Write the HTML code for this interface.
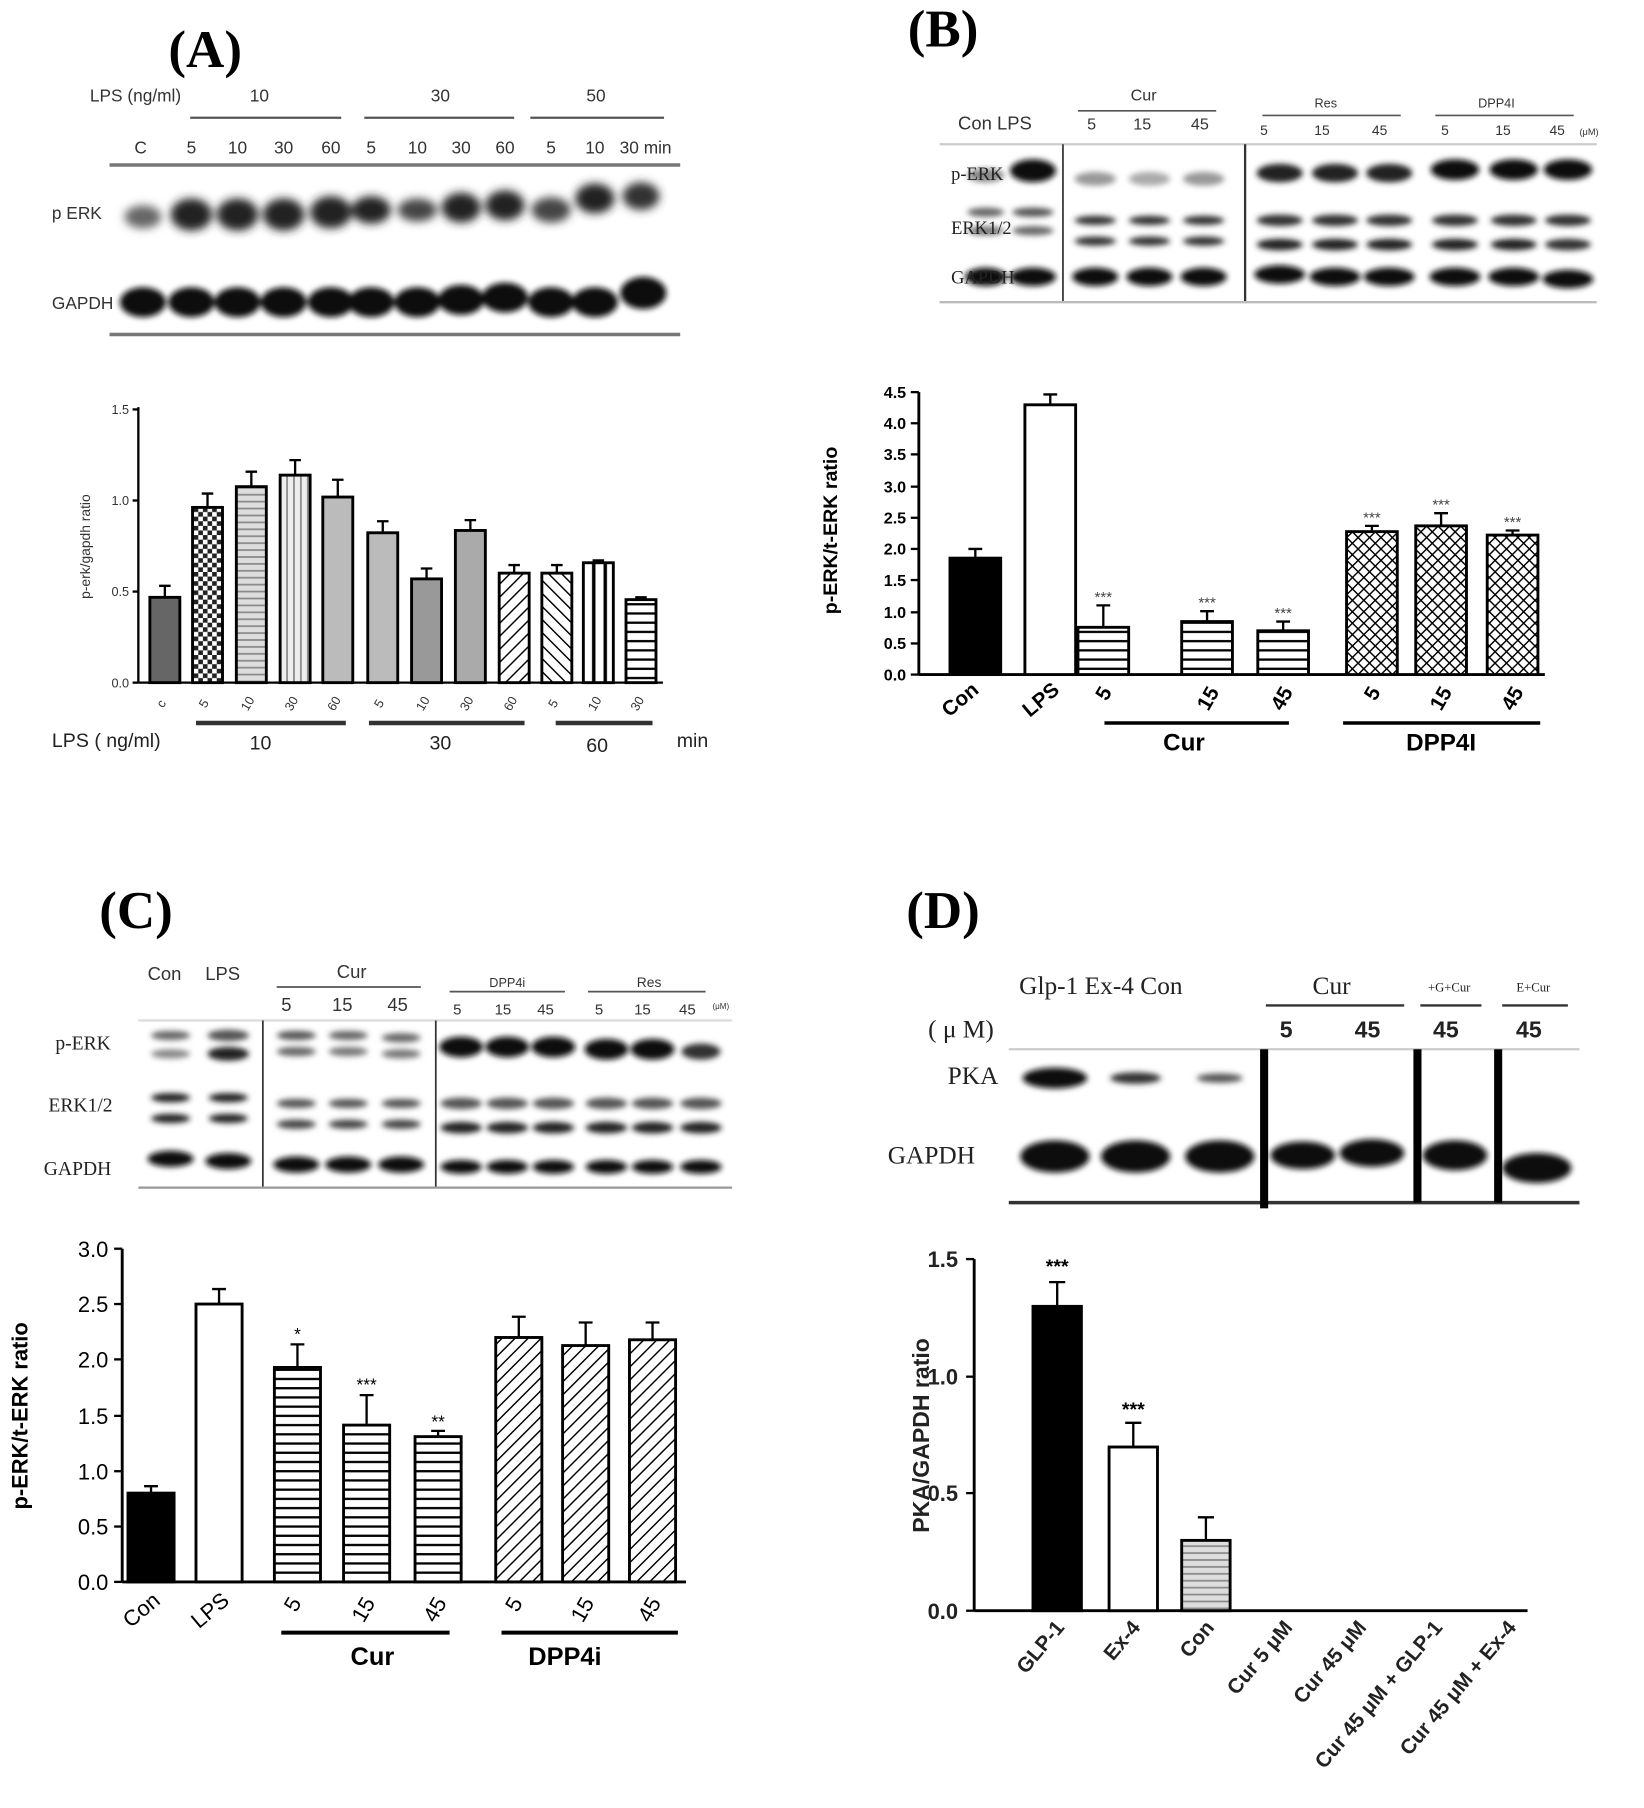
<!DOCTYPE html>
<html><head><meta charset="utf-8"><style>
html,body{margin:0;padding:0;background:#fff}
svg{display:block}
text{font-family:"Liberation Sans",sans-serif}
.serif{font-family:"Liberation Serif",serif}
</style></head><body>
<svg width="1644" height="1808" viewBox="0 0 1426 1568" xmlns="http://www.w3.org/2000/svg">
<defs>
<filter id="bl" x="-30%" y="-80%" width="160%" height="260%"><feGaussianBlur stdDeviation="4"/></filter>
<filter id="bl2" x="-30%" y="-80%" width="160%" height="260%"><feGaussianBlur stdDeviation="2.5"/></filter>
<pattern id="hz" width="8" height="8" patternUnits="userSpaceOnUse"><rect width="8" height="8" fill="#fff"/><line x1="0" y1="4" x2="8" y2="4" stroke="#000" stroke-width="2"/></pattern>
<pattern id="hz2" width="6" height="6" patternUnits="userSpaceOnUse"><rect width="6" height="6" fill="#ddd"/><line x1="0" y1="3" x2="6" y2="3" stroke="#888" stroke-width="1.5"/></pattern>
<pattern id="vt" width="6" height="6" patternUnits="userSpaceOnUse"><rect width="6" height="6" fill="#eee"/><line x1="3" y1="0" x2="3" y2="6" stroke="#888" stroke-width="1.5"/></pattern>
<pattern id="ck" width="8" height="8" patternUnits="userSpaceOnUse"><rect width="8" height="8" fill="#fff"/><rect width="4" height="4" fill="#222"/><rect x="4" y="4" width="4" height="4" fill="#222"/></pattern>
<pattern id="d1" width="8" height="8" patternUnits="userSpaceOnUse" patternTransform="rotate(45)"><rect width="8" height="8" fill="#fff"/><line x1="0" y1="0" x2="0" y2="8" stroke="#000" stroke-width="2.5"/></pattern>
<pattern id="d2" width="8" height="8" patternUnits="userSpaceOnUse" patternTransform="rotate(-45)"><rect width="8" height="8" fill="#fff"/><line x1="0" y1="0" x2="0" y2="8" stroke="#000" stroke-width="2.5"/></pattern>
<pattern id="xh" width="7" height="7" patternUnits="userSpaceOnUse" patternTransform="rotate(45)"><rect width="7" height="7" fill="#fff"/><line x1="0" y1="0" x2="0" y2="7" stroke="#000" stroke-width="2.5"/><line x1="0" y1="0" x2="7" y2="0" stroke="#000" stroke-width="2.5"/></pattern>
<pattern id="vl" width="10" height="10" patternUnits="userSpaceOnUse"><rect width="10" height="10" fill="#fff"/><line x1="5" y1="0" x2="5" y2="10" stroke="#000" stroke-width="3"/></pattern>
</defs>

<!-- Panel A -->
<text x="178" y="58" class="serif" font-size="46" font-weight="bold" text-anchor="middle">(A)</text>
<g font-size="15" fill="#333">
<text x="78" y="88">LPS (ng/ml)</text>
<text x="225" y="88" text-anchor="middle">10</text><text x="382" y="88" text-anchor="middle">30</text><text x="517" y="88" text-anchor="middle">50</text>
<line x1="165" y1="102" x2="296" y2="102" stroke="#555" stroke-width="2"/>
<line x1="316" y1="102" x2="446" y2="102" stroke="#555" stroke-width="2"/>
<line x1="460" y1="102" x2="576" y2="102" stroke="#555" stroke-width="2"/>
<text x="122" y="133" text-anchor="middle">C</text>
<text x="166" y="133" text-anchor="middle">5</text><text x="206" y="133" text-anchor="middle">10</text><text x="246" y="133" text-anchor="middle">30</text><text x="287" y="133" text-anchor="middle">60</text>
<text x="322" y="133" text-anchor="middle">5</text><text x="362" y="133" text-anchor="middle">10</text><text x="400" y="133" text-anchor="middle">30</text><text x="438" y="133" text-anchor="middle">60</text>
<text x="478" y="133" text-anchor="middle">5</text><text x="516" y="133" text-anchor="middle">10</text><text x="560" y="133" text-anchor="middle">30 min</text>
<text x="45" y="190">p ERK</text><text x="45" y="268">GAPDH</text>
</g>
<line x1="95" y1="143" x2="590" y2="143" stroke="#777" stroke-width="3"/>
<line x1="95" y1="290" x2="590" y2="290" stroke="#777" stroke-width="3"/>
<g filter="url(#bl)" fill="#222">
<ellipse cx="124" cy="188" rx="16" ry="10" fill="#666"/>
<ellipse cx="166" cy="186" rx="18" ry="14"/><ellipse cx="206" cy="186" rx="18" ry="14"/><ellipse cx="246" cy="186" rx="18" ry="14"/><ellipse cx="287" cy="184" rx="18" ry="14"/>
<ellipse cx="322" cy="182" rx="17" ry="12"/><ellipse cx="362" cy="182" rx="17" ry="10" fill="#444"/><ellipse cx="400" cy="180" rx="17" ry="13"/><ellipse cx="438" cy="178" rx="17" ry="13"/>
<ellipse cx="478" cy="182" rx="17" ry="11" fill="#444"/><ellipse cx="516" cy="172" rx="17" ry="13"/><ellipse cx="556" cy="170" rx="16" ry="12" fill="#333"/>
</g>
<g filter="url(#bl2)" fill="#111">
<ellipse cx="124" cy="262" rx="20" ry="13"/><ellipse cx="166" cy="262" rx="20" ry="13"/><ellipse cx="206" cy="262" rx="20" ry="13"/><ellipse cx="246" cy="262" rx="20" ry="13"/><ellipse cx="287" cy="262" rx="20" ry="13"/><ellipse cx="322" cy="262" rx="20" ry="13"/><ellipse cx="362" cy="262" rx="20" ry="13"/><ellipse cx="400" cy="260" rx="20" ry="13"/><ellipse cx="438" cy="258" rx="20" ry="13"/><ellipse cx="478" cy="262" rx="20" ry="13"/><ellipse cx="516" cy="262" rx="20" ry="13"/><ellipse cx="558" cy="254" rx="20" ry="14"/>
</g>
<!-- chart A -->
<g stroke="#000" stroke-width="2">
<line x1="120" y1="353" x2="120" y2="592"/><line x1="120" y1="592" x2="575" y2="592"/>
<line x1="115" y1="355" x2="120" y2="355"/><line x1="115" y1="434" x2="120" y2="434"/><line x1="115" y1="513" x2="120" y2="513"/><line x1="115" y1="592" x2="120" y2="592"/>
</g>
<g font-size="11" text-anchor="end" fill="#333"><text x="112" y="359">1.5</text><text x="112" y="438">1.0</text><text x="112" y="517">0.5</text><text x="112" y="596">0.0</text></g>
<text transform="translate(78,474) rotate(-90)" font-size="12" text-anchor="middle" fill="#333">p-erk/gapdh ratio</text>
<g stroke="#000" stroke-width="2.5">
<rect x="130" y="518" width="26" height="74" fill="#666"/>
<rect x="167" y="440" width="26" height="152" fill="url(#ck)"/>
<rect x="205" y="422" width="26" height="170" fill="url(#hz2)"/>
<rect x="243" y="412" width="26" height="180" fill="url(#vt)"/>
<rect x="280" y="431" width="26" height="161" fill="#bbb"/>
<rect x="319" y="462" width="26" height="130" fill="#bbb"/>
<rect x="357" y="502" width="26" height="90" fill="#999"/>
<rect x="395" y="460" width="26" height="132" fill="#aaa"/>
<rect x="433" y="497" width="26" height="95" fill="url(#d1)"/>
<rect x="470" y="497" width="26" height="95" fill="url(#d2)"/>
<rect x="506" y="488" width="26" height="104" fill="url(#vl)"/>
<rect x="543" y="520" width="26" height="72" fill="url(#hz)"/>
</g>
<g stroke="#000" stroke-width="2" fill="none">
<path d="M143 518V508M138 508h10"/><path d="M180 440V428M175 428h10"/><path d="M218 422V409M213 409h10"/><path d="M256 412V399M251 399h10"/><path d="M293 431V416M288 416h10"/><path d="M332 462V452M327 452h10"/><path d="M370 502V493M365 493h10"/><path d="M408 460V451M403 451h10"/><path d="M446 497V490M441 490h10"/><path d="M483 497V490M478 490h10"/><path d="M519 488V486M514 486h10"/><path d="M556 520V518M551 518h10"/>
</g>
<g font-size="11" fill="#333" text-anchor="middle">
<text transform="translate(143,612) rotate(-60)">c</text>
<text transform="translate(180,612) rotate(-60)">5</text><text transform="translate(218,612) rotate(-60)">10</text><text transform="translate(256,612) rotate(-60)">30</text><text transform="translate(293,612) rotate(-60)">60</text>
<text transform="translate(332,612) rotate(-60)">5</text><text transform="translate(370,612) rotate(-60)">10</text><text transform="translate(408,612) rotate(-60)">30</text><text transform="translate(446,612) rotate(-60)">60</text>
<text transform="translate(483,612) rotate(-60)">5</text><text transform="translate(519,612) rotate(-60)">10</text><text transform="translate(556,612) rotate(-60)">30</text>
</g>
<g stroke="#333" stroke-width="4"><line x1="170" y1="627" x2="300" y2="627"/><line x1="320" y1="627" x2="455" y2="627"/><line x1="482" y1="627" x2="566" y2="627"/></g>
<g font-size="17" fill="#222"><text x="45" y="648">LPS ( ng/ml)</text><text x="226" y="650" text-anchor="middle">10</text><text x="382" y="650" text-anchor="middle">30</text><text x="518" y="652" text-anchor="middle">60</text><text x="587" y="648">min</text></g>

<!-- Panel B -->
<text x="818" y="40" class="serif" font-size="46" font-weight="bold" text-anchor="middle">(B)</text>
<g font-size="14" fill="#333">
<text x="992" y="87" text-anchor="middle">Cur</text><line x1="935" y1="96" x2="1055" y2="96" stroke="#555" stroke-width="1.5"/>
<text x="1150" y="93" text-anchor="middle" font-size="11">Res</text><line x1="1095" y1="100" x2="1215" y2="100" stroke="#555" stroke-width="1.5"/>
<text x="1298" y="93" text-anchor="middle" font-size="11">DPP4I</text><line x1="1245" y1="100" x2="1365" y2="100" stroke="#555" stroke-width="1.5"/>
<text x="831" y="112" font-size="16">Con LPS</text>
<text x="943" y="112">5</text><text x="983" y="112">15</text><text x="1033" y="112">45</text>
<text x="1093" y="117" font-size="12">5</text><text x="1140" y="117" font-size="12">15</text><text x="1190" y="117" font-size="12">45</text>
<text x="1250" y="117" font-size="12">5</text><text x="1297" y="117" font-size="12">15</text><text x="1344" y="117" font-size="12">45</text>
<text x="1370" y="117" font-size="8">(μM)</text>
</g>
<line x1="815" y1="125" x2="1385" y2="125" stroke="#ccc" stroke-width="2"/>
<line x1="922" y1="125" x2="922" y2="262" stroke="#333" stroke-width="1.5"/>
<line x1="1080" y1="125" x2="1080" y2="262" stroke="#333" stroke-width="2"/>
<line x1="815" y1="262" x2="1385" y2="262" stroke="#bbb" stroke-width="2"/>
<g filter="url(#bl2)" fill="#333">
<ellipse cx="855" cy="152" rx="16" ry="6" fill="#888"/><ellipse cx="896" cy="148" rx="20" ry="10" fill="#111"/>
<ellipse cx="950" cy="155" rx="18" ry="6" fill="#999"/><ellipse cx="997" cy="155" rx="18" ry="6" fill="#aaa"/><ellipse cx="1044" cy="155" rx="18" ry="6" fill="#999"/>
<ellipse cx="1110" cy="150" rx="20" ry="8" fill="#222"/><ellipse cx="1158" cy="150" rx="20" ry="8" fill="#222"/><ellipse cx="1205" cy="150" rx="20" ry="8" fill="#222"/><ellipse cx="1262" cy="147" rx="21" ry="9" fill="#111"/><ellipse cx="1313" cy="147" rx="21" ry="9" fill="#111"/><ellipse cx="1360" cy="147" rx="21" ry="9" fill="#111"/>
<ellipse cx="855" cy="184" rx="16" ry="4" fill="#666"/><ellipse cx="896" cy="184" rx="18" ry="4" fill="#555"/><ellipse cx="855" cy="200" rx="16" ry="4" fill="#777"/><ellipse cx="896" cy="200" rx="18" ry="4" fill="#666"/>
<ellipse cx="950" cy="191" rx="18" ry="4"/><ellipse cx="997" cy="191" rx="18" ry="4"/><ellipse cx="1044" cy="191" rx="18" ry="4"/><ellipse cx="950" cy="209" rx="18" ry="4"/><ellipse cx="997" cy="209" rx="18" ry="4"/><ellipse cx="1044" cy="209" rx="18" ry="4"/>
<ellipse cx="1110" cy="191" rx="20" ry="5"/><ellipse cx="1158" cy="191" rx="20" ry="5"/><ellipse cx="1205" cy="191" rx="20" ry="5"/><ellipse cx="1262" cy="191" rx="20" ry="5"/><ellipse cx="1313" cy="191" rx="20" ry="5"/><ellipse cx="1360" cy="191" rx="20" ry="5"/>
<ellipse cx="1110" cy="212" rx="20" ry="5" fill="#222"/><ellipse cx="1158" cy="212" rx="20" ry="5" fill="#222"/><ellipse cx="1205" cy="212" rx="20" ry="5" fill="#222"/><ellipse cx="1262" cy="212" rx="20" ry="5" fill="#222"/><ellipse cx="1313" cy="212" rx="20" ry="5" fill="#222"/><ellipse cx="1360" cy="212" rx="20" ry="5" fill="#333"/>
</g>
<g filter="url(#bl2)" fill="#111">
<ellipse cx="855" cy="240" rx="18" ry="8"/><ellipse cx="896" cy="240" rx="20" ry="8"/><ellipse cx="950" cy="240" rx="20" ry="8"/><ellipse cx="997" cy="240" rx="20" ry="8"/><ellipse cx="1044" cy="240" rx="20" ry="8"/><ellipse cx="1110" cy="238" rx="22" ry="8"/><ellipse cx="1158" cy="240" rx="22" ry="8"/><ellipse cx="1205" cy="240" rx="22" ry="8"/><ellipse cx="1262" cy="240" rx="22" ry="8"/><ellipse cx="1313" cy="240" rx="22" ry="8"/><ellipse cx="1360" cy="242" rx="22" ry="8"/>
</g>
<g class="serif" font-size="16" fill="#222"><text x="825" y="156" class="serif">p-ERK</text><text x="825" y="203" class="serif">ERK1/2</text><text x="825" y="246" class="serif">GAPDH</text></g>
<!-- chart B -->
<g stroke="#000" stroke-width="2.5">
<line x1="797" y1="340" x2="797" y2="585"/><line x1="797" y1="585" x2="1340" y2="585"/>
</g>
<g stroke="#000" stroke-width="2">
<line x1="790" y1="340" x2="797" y2="340"/><line x1="790" y1="367" x2="797" y2="367"/><line x1="790" y1="394" x2="797" y2="394"/><line x1="790" y1="422" x2="797" y2="422"/><line x1="790" y1="449" x2="797" y2="449"/><line x1="790" y1="476" x2="797" y2="476"/><line x1="790" y1="503" x2="797" y2="503"/><line x1="790" y1="531" x2="797" y2="531"/><line x1="790" y1="558" x2="797" y2="558"/><line x1="790" y1="585" x2="797" y2="585"/>
</g>
<g font-size="14" font-weight="bold" text-anchor="end"><text x="786" y="345">4.5</text><text x="786" y="372">4.0</text><text x="786" y="399">3.5</text><text x="786" y="427">3.0</text><text x="786" y="454">2.5</text><text x="786" y="481">2.0</text><text x="786" y="508">1.5</text><text x="786" y="536">1.0</text><text x="786" y="563">0.5</text><text x="786" y="590">0.0</text></g>
<text transform="translate(726,460) rotate(-90)" font-size="17" font-weight="bold" text-anchor="middle">p-ERK/t-ERK ratio</text>
<g stroke="#000" stroke-width="2.5">
<rect x="824" y="484" width="44" height="101" fill="#000"/>
<rect x="889" y="351" width="44" height="234" fill="#fff"/>
<rect x="935" y="544" width="44" height="41" fill="url(#hz)"/>
<rect x="1025" y="539" width="44" height="46" fill="url(#hz)"/>
<rect x="1091" y="547" width="44" height="38" fill="url(#hz)"/>
<rect x="1168" y="461" width="44" height="124" fill="url(#xh)"/>
<rect x="1228" y="456" width="44" height="129" fill="url(#xh)"/>
<rect x="1290" y="464" width="44" height="121" fill="url(#xh)"/>
</g>
<g stroke="#000" stroke-width="2" fill="none">
<path d="M846 484V476M840 476h12"/><path d="M911 351V342M905 342h12"/><path d="M957 544V525M951 525h12"/><path d="M1047 539V530M1041 530h12"/><path d="M1113 547V539M1107 539h12"/><path d="M1190 461V456M1184 456h12"/><path d="M1250 456V445M1244 445h12"/><path d="M1312 464V460M1306 460h12"/>
</g>
<g font-size="13" text-anchor="middle" fill="#444"><text x="957" y="522">***</text><text x="1047" y="527">***</text><text x="1113" y="536">***</text><text x="1190" y="453">***</text><text x="1250" y="442">***</text><text x="1312" y="457">***</text></g>
<g font-size="18" font-weight="bold" text-anchor="end">
<text transform="translate(850,600) rotate(-40)">Con</text><text transform="translate(920,600) rotate(-40)">LPS</text>
<text transform="translate(965,600) rotate(-60)">5</text><text transform="translate(1058,600) rotate(-60)">15</text><text transform="translate(1122,600) rotate(-60)">45</text>
<text transform="translate(1198,600) rotate(-60)">5</text><text transform="translate(1260,600) rotate(-60)">15</text><text transform="translate(1322,600) rotate(-60)">45</text>
</g>
<g stroke="#000" stroke-width="3"><line x1="958" y1="627" x2="1118" y2="627"/><line x1="1165" y1="627" x2="1336" y2="627"/></g>
<g font-size="21" font-weight="bold" text-anchor="middle"><text x="1027" y="651">Cur</text><text x="1250" y="651">DPP4I</text></g>

<!-- Panel C -->
<text x="118" y="805" class="serif" font-size="46" font-weight="bold" text-anchor="middle">(C)</text>
<g font-size="16" fill="#333">
<text x="128" y="850">Con</text><text x="178" y="850">LPS</text>
<text x="305" y="848" text-anchor="middle">Cur</text><line x1="240" y1="856" x2="365" y2="856" stroke="#555" stroke-width="1.5"/>
<text x="440" y="856" text-anchor="middle" font-size="11">DPP4i</text><line x1="390" y1="860" x2="490" y2="860" stroke="#555" stroke-width="1.5"/>
<text x="563" y="856" text-anchor="middle" font-size="12">Res</text><line x1="510" y1="860" x2="612" y2="860" stroke="#555" stroke-width="1.5"/>
<text x="244" y="877">5</text><text x="288" y="877">15</text><text x="336" y="877">45</text>
<text x="393" y="880" font-size="13">5</text><text x="429" y="880" font-size="13">15</text><text x="466" y="880" font-size="13">45</text>
<text x="516" y="880" font-size="13">5</text><text x="550" y="880" font-size="13">15</text><text x="589" y="880" font-size="13">45</text>
<text x="618" y="875" font-size="7">(μM)</text>
</g>
<g class="serif" font-size="17" fill="#222"><text x="48" y="910" class="serif">p-ERK</text><text x="42" y="964" class="serif">ERK1/2</text><text x="38" y="1019" class="serif">GAPDH</text></g>
<line x1="120" y1="885" x2="635" y2="885" stroke="#ddd" stroke-width="2"/>
<line x1="228" y1="885" x2="228" y2="1030" stroke="#333" stroke-width="1.5"/>
<line x1="378" y1="885" x2="378" y2="1030" stroke="#333" stroke-width="1.5"/>
<line x1="120" y1="1030" x2="635" y2="1030" stroke="#999" stroke-width="2"/>
<g filter="url(#bl2)" fill="#222">
<ellipse cx="148" cy="898" rx="17" ry="4" fill="#666"/><ellipse cx="148" cy="914" rx="17" ry="4" fill="#888"/>
<ellipse cx="198" cy="898" rx="18" ry="5" fill="#555"/><ellipse cx="198" cy="914" rx="18" ry="6" fill="#222"/>
<ellipse cx="257" cy="898" rx="17" ry="4" fill="#555"/><ellipse cx="257" cy="912" rx="17" ry="4" fill="#666"/><ellipse cx="302" cy="898" rx="17" ry="4" fill="#666"/><ellipse cx="302" cy="912" rx="17" ry="4" fill="#777"/><ellipse cx="348" cy="900" rx="17" ry="4" fill="#666"/><ellipse cx="348" cy="914" rx="17" ry="4" fill="#777"/>
<ellipse cx="400" cy="908" rx="19" ry="9" fill="#111"/><ellipse cx="440" cy="908" rx="19" ry="9" fill="#111"/><ellipse cx="480" cy="908" rx="19" ry="9" fill="#111"/><ellipse cx="526" cy="910" rx="19" ry="9" fill="#111"/><ellipse cx="566" cy="910" rx="19" ry="9" fill="#111"/><ellipse cx="608" cy="912" rx="17" ry="7" fill="#333"/>
<ellipse cx="148" cy="952" rx="17" ry="4"/><ellipse cx="198" cy="952" rx="17" ry="4"/><ellipse cx="148" cy="970" rx="17" ry="4"/><ellipse cx="198" cy="970" rx="17" ry="4"/>
<ellipse cx="257" cy="957" rx="17" ry="4" fill="#555"/><ellipse cx="302" cy="957" rx="17" ry="4" fill="#555"/><ellipse cx="348" cy="957" rx="17" ry="4" fill="#555"/><ellipse cx="257" cy="975" rx="17" ry="4" fill="#444"/><ellipse cx="302" cy="975" rx="17" ry="4" fill="#444"/><ellipse cx="348" cy="975" rx="17" ry="4" fill="#444"/>
<ellipse cx="400" cy="957" rx="18" ry="5" fill="#555"/><ellipse cx="440" cy="957" rx="18" ry="5" fill="#555"/><ellipse cx="480" cy="957" rx="18" ry="5" fill="#555"/><ellipse cx="526" cy="957" rx="18" ry="5" fill="#555"/><ellipse cx="566" cy="957" rx="18" ry="5" fill="#555"/><ellipse cx="608" cy="957" rx="18" ry="5" fill="#555"/>
<ellipse cx="400" cy="978" rx="18" ry="5"/><ellipse cx="440" cy="978" rx="18" ry="5"/><ellipse cx="480" cy="978" rx="18" ry="5"/><ellipse cx="526" cy="978" rx="18" ry="5"/><ellipse cx="566" cy="978" rx="18" ry="5"/><ellipse cx="608" cy="978" rx="18" ry="5"/>
</g>
<g filter="url(#bl2)" fill="#111">
<ellipse cx="148" cy="1005" rx="20" ry="7"/><ellipse cx="198" cy="1007" rx="20" ry="7"/><ellipse cx="257" cy="1010" rx="20" ry="7"/><ellipse cx="302" cy="1010" rx="20" ry="7"/><ellipse cx="348" cy="1010" rx="20" ry="7"/><ellipse cx="400" cy="1012" rx="18" ry="6"/><ellipse cx="440" cy="1012" rx="18" ry="6"/><ellipse cx="480" cy="1012" rx="18" ry="6"/><ellipse cx="526" cy="1012" rx="18" ry="6"/><ellipse cx="566" cy="1012" rx="18" ry="6"/><ellipse cx="608" cy="1012" rx="18" ry="6"/>
</g>
<!-- chart C -->
<g stroke="#000" stroke-width="2.5"><line x1="106" y1="1083" x2="106" y2="1372"/><line x1="106" y1="1372" x2="595" y2="1372"/></g>
<g stroke="#000" stroke-width="2">
<line x1="99" y1="1083" x2="106" y2="1083"/><line x1="99" y1="1131" x2="106" y2="1131"/><line x1="99" y1="1179" x2="106" y2="1179"/><line x1="99" y1="1228" x2="106" y2="1228"/><line x1="99" y1="1276" x2="106" y2="1276"/><line x1="99" y1="1324" x2="106" y2="1324"/><line x1="99" y1="1372" x2="106" y2="1372"/>
</g>
<g font-size="19" text-anchor="end"><text x="94" y="1090">3.0</text><text x="94" y="1138">2.5</text><text x="94" y="1186">2.0</text><text x="94" y="1235">1.5</text><text x="94" y="1283">1.0</text><text x="94" y="1331">0.5</text><text x="94" y="1379">0.0</text></g>
<text transform="translate(24,1228) rotate(-90)" font-size="19" font-weight="bold" text-anchor="middle">p-ERK/t-ERK ratio</text>
<g stroke="#000" stroke-width="2.5">
<rect x="111" y="1295" width="40" height="77" fill="#000"/>
<rect x="170" y="1131" width="40" height="241" fill="#fff"/>
<rect x="238" y="1186" width="40" height="186" fill="url(#hz)"/>
<rect x="298" y="1236" width="40" height="136" fill="url(#hz)"/>
<rect x="360" y="1246" width="40" height="126" fill="url(#hz)"/>
<rect x="430" y="1160" width="40" height="212" fill="url(#d1)"/>
<rect x="488" y="1167" width="40" height="205" fill="url(#d1)"/>
<rect x="546" y="1162" width="40" height="210" fill="url(#d1)"/>
</g>
<g stroke="#000" stroke-width="2" fill="none">
<path d="M131 1295V1289M125 1289h12"/><path d="M190 1131V1118M184 1118h12"/><path d="M258 1186V1166M252 1166h12"/><path d="M318 1236V1210M312 1210h12"/><path d="M380 1246V1241M374 1241h12"/><path d="M450 1160V1142M444 1142h12"/><path d="M508 1167V1147M502 1147h12"/><path d="M566 1162V1147M560 1147h12"/>
</g>
<g font-size="15" text-anchor="middle"><text x="258" y="1162">*</text><text x="318" y="1206">***</text><text x="380" y="1238">**</text></g>
<g font-size="19" text-anchor="end">
<text transform="translate(140,1390) rotate(-40)">Con</text><text transform="translate(200,1390) rotate(-40)">LPS</text>
<text transform="translate(262,1390) rotate(-60)">5</text><text transform="translate(326,1390) rotate(-60)">15</text><text transform="translate(388,1390) rotate(-60)">45</text>
<text transform="translate(454,1390) rotate(-60)">5</text><text transform="translate(516,1390) rotate(-60)">15</text><text transform="translate(574,1390) rotate(-60)">45</text>
</g>
<g stroke="#000" stroke-width="3.5"><line x1="244" y1="1416" x2="390" y2="1416"/><line x1="435" y1="1416" x2="588" y2="1416"/></g>
<g font-size="22" font-weight="bold" text-anchor="middle"><text x="323" y="1444">Cur</text><text x="490" y="1444">DPP4i</text></g>

<!-- Panel D -->
<text x="818" y="805" class="serif" font-size="46" font-weight="bold" text-anchor="middle">(D)</text>
<g class="serif" fill="#222">
<text x="884" y="862" font-size="22" class="serif">Glp-1 Ex-4 Con</text>
<text x="1155" y="862" font-size="22" class="serif" text-anchor="middle">Cur</text>
<line x1="1098" y1="872" x2="1218" y2="872" stroke="#333" stroke-width="2"/>
<text x="1257" y="860" font-size="11" class="serif" text-anchor="middle">+G+Cur</text><line x1="1232" y1="872" x2="1285" y2="872" stroke="#333" stroke-width="2"/>
<text x="1330" y="860" font-size="11" class="serif" text-anchor="middle">E+Cur</text><line x1="1303" y1="872" x2="1360" y2="872" stroke="#333" stroke-width="2"/>
<text x="805" y="900" font-size="22" class="serif">( μ M)</text>
<text x="822" y="940" font-size="22" class="serif">PKA</text>
<text x="770" y="1009" font-size="22" class="serif">GAPDH</text>
</g>
<g font-size="20" font-weight="bold" fill="#222"><text x="1110" y="900">5</text><text x="1175" y="900">45</text><text x="1243" y="900">45</text><text x="1315" y="900">45</text></g>
<line x1="875" y1="910" x2="1370" y2="910" stroke="#ccc" stroke-width="2"/>
<line x1="875" y1="1043" x2="1370" y2="1043" stroke="#333" stroke-width="3"/>
<g fill="#000"><rect x="1093" y="910" width="7" height="138"/><rect x="1226" y="910" width="7" height="133"/><rect x="1296" y="910" width="7" height="133"/></g>
<g filter="url(#bl2)" fill="#111">
<ellipse cx="915" cy="935" rx="28" ry="9"/><ellipse cx="985" cy="935" rx="22" ry="5" fill="#333"/><ellipse cx="1058" cy="935" rx="20" ry="4" fill="#555"/>
<ellipse cx="915" cy="1003" rx="30" ry="14"/><ellipse cx="985" cy="1003" rx="30" ry="14"/><ellipse cx="1058" cy="1003" rx="30" ry="14"/><ellipse cx="1130" cy="1002" rx="28" ry="12"/><ellipse cx="1190" cy="1000" rx="28" ry="12"/><ellipse cx="1262" cy="1002" rx="28" ry="13"/><ellipse cx="1333" cy="1013" rx="30" ry="13"/>
</g>
<!-- chart D -->
<g stroke="#000" stroke-width="2.5"><line x1="845" y1="1092" x2="845" y2="1397"/><line x1="845" y1="1397" x2="1325" y2="1397"/></g>
<g stroke="#000" stroke-width="2"><line x1="838" y1="1092" x2="845" y2="1092"/><line x1="838" y1="1194" x2="845" y2="1194"/><line x1="838" y1="1295" x2="845" y2="1295"/><line x1="838" y1="1397" x2="845" y2="1397"/></g>
<g font-size="19" font-weight="bold" text-anchor="end" fill="#222"><text x="831" y="1099">1.5</text><text x="831" y="1201">1.0</text><text x="831" y="1302">0.5</text><text x="831" y="1404">0.0</text></g>
<text transform="translate(806,1245) rotate(-90)" font-size="20" font-weight="bold" text-anchor="middle" fill="#222">PKA/GAPDH ratio</text>
<g stroke="#000" stroke-width="2.5">
<rect x="896" y="1133" width="42" height="264" fill="#000"/>
<rect x="962" y="1255" width="42" height="142" fill="#fff"/>
<rect x="1025" y="1336" width="42" height="61" fill="url(#hz2)"/>
</g>
<g stroke="#000" stroke-width="2" fill="none"><path d="M917 1133V1112M910 1112h14"/><path d="M983 1255V1234M976 1234h14"/><path d="M1046 1336V1316M1039 1316h14"/></g>
<g font-size="17" font-weight="bold" text-anchor="middle"><text x="917" y="1104">***</text><text x="983" y="1228">***</text></g>
<g font-size="18" font-weight="bold" text-anchor="end" fill="#222">
<text transform="translate(924,1412) rotate(-50)">GLP-1</text>
<text transform="translate(990,1412) rotate(-50)">Ex-4</text>
<text transform="translate(1054,1412) rotate(-50)">Con</text>
<text transform="translate(1122,1412) rotate(-50)">Cur 5 μM</text>
<text transform="translate(1186,1412) rotate(-50)">Cur 45 μM</text>
<text transform="translate(1252,1412) rotate(-50)">Cur 45 μM + GLP-1</text>
<text transform="translate(1316,1412) rotate(-50)">Cur 45 μM + Ex-4</text>
</g>
</svg>
</body></html>
